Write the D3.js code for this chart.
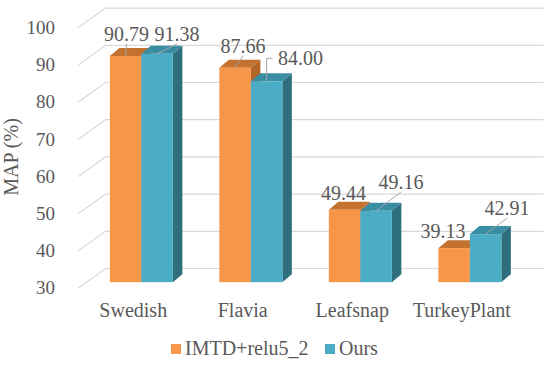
<!DOCTYPE html>
<html>
<head>
<meta charset="utf-8">
<script src="https://cdn.jsdelivr.net/npm/d3@7"></script>
<style>
  body { margin: 0; background: #fff; }
  text { font-family: "Liberation Serif", "Times New Roman", serif; fill: #595959; }
</style>
</head>
<body>
<div id="chart"></div>
<script>
const categories = ["Swedish", "Flavia", "Leafsnap", "TurkeyPlant"];
const seriesNames = ["IMTD+relu5_2", "Ours"];
const imtdValues = [90.79, 87.66, 49.44, 39.13];
const oursValues = [91.38, 84.00, 49.16, 42.91];
const yTicks = [30, 40, 50, 60, 70, 80, 90, 100];
const seriesColors = [
  { front: "#F79646", top: "#C2712F", side: "#B4652A" },
  { front: "#4BACC6", top: "#3A8EA3", side: "#2F6E7D" }
];

// label nudges (layout only): [dx to label centre, dy to baseline, leader kind]
const labelNudge = [
  [[1, -15, "line"], [8, -15, "line"], [-1, -10, "none"], [-11, -10, "none"]],
  [[20, -13, "line"], [34, -16, "elbow"], [25, -22, "line"], [21.5, -19, "line"]]
];

const width = 550, height = 365;
const wallDepth = [27, -19.5];   // floor front -> back wall
const barPlane = 0.3;            // where bars stand in the depth
const barDepth = [9.5, -8];

const svg = d3.select("#chart").append("svg")
  .attr("width", width)
  .attr("height", height);

const x = d3.scaleBand().domain(categories).range([78.5, 516.5]);
const xInner = d3.scaleBand().domain(seriesNames)
  .range([x.bandwidth() / 2 - 31.5, x.bandwidth() / 2 + 31.5]);
const y = d3.scaleLinear().domain([30, 100]).range([288, 27.6]);

// gridlines: left wall diagonal + back wall
const grid = svg.append("g").attr("class", "grid")
  .attr("stroke", "#D9D9D9").attr("fill", "none").attr("stroke-width", 1.2);
grid.selectAll("path")
  .data(yTicks)
  .enter().append("path")
  .attr("d", d => {
    const x0 = x.range()[0], y0 = y(d);
    return `M${x0},${y0} L${x0 + wallDepth[0]},${y0 + wallDepth[1]} L${x.range()[1] + wallDepth[0]},${y0 + wallDepth[1]}`;
  });

// y tick labels
svg.append("g").selectAll("text")
  .data(yTicks)
  .enter().append("text")
  .attr("x", 55)
  .attr("y", d => y(d))
  .attr("dy", "0.34em")
  .attr("text-anchor", "end")
  .style("font-size", "19px")
  .text(d => d);

// y title
svg.append("text")
  .attr("transform", "translate(18,157) rotate(-90)")
  .attr("text-anchor", "middle")
  .style("font-size", "20px")
  .text("MAP (%)");

// category labels
svg.append("g").selectAll("text")
  .data(categories)
  .enter().append("text")
  .attr("x", d => x(d) + x.bandwidth() / 2)
  .attr("y", 317)
  .attr("text-anchor", "middle")
  .style("font-size", "20px")
  .text(d => d);

// bars
const shift = [wallDepth[0] * barPlane, wallDepth[1] * barPlane];
const rows = [];
categories.forEach((c, i) => {
  [imtdValues, oursValues].forEach((vals, s) => {
    rows.push({ cat: c, i: i, s: s, v: vals[i] });
  });
});

const bars = svg.append("g").attr("class", "bars")
  .selectAll("g")
  .data(rows)
  .enter().append("g");

bars.each(function (d) {
  const g = d3.select(this);
  const x0 = x(d.cat) + xInner(seriesNames[d.s]) + shift[0];
  const x1 = x0 + xInner.bandwidth();
  const yb = y(30) + shift[1];
  const yt = y(d.v) + shift[1];
  const [ddx, ddy] = barDepth;
  const col = seriesColors[d.s];
  d.cx = (x0 + x1) / 2;
  d.top = yt;
  g.append("path")
    .attr("d", `M${x1},${yb} L${x1 + ddx},${yb + ddy} L${x1 + ddx},${yt + ddy} L${x1},${yt} Z`)
    .attr("fill", col.side);
  g.append("path")
    .attr("d", `M${x0},${yt} L${x0 + ddx},${yt + ddy} L${x1 + ddx},${yt + ddy} L${x1},${yt} Z`)
    .attr("fill", col.top);
  g.append("rect")
    .attr("x", x0).attr("y", yt)
    .attr("width", x1 - x0).attr("height", yb - yt)
    .attr("fill", col.front);
});

// data labels + leader lines
const labels = svg.append("g").attr("class", "labels");
rows.forEach(d => {
  const [ndx, ndy, kind] = labelNudge[d.s][d.i];
  const lx = d.cx + ndx, ly = d.top + ndy;
  labels.append("text")
    .attr("x", lx).attr("y", ly)
    .attr("text-anchor", "middle")
    .style("font-size", "20px")
    .text(d.v.toFixed(2));
  if (kind === "line") {
    labels.append("line")
      .attr("x1", d.cx).attr("y1", d.top)
      .attr("x2", lx).attr("y2", ly + 3)
      .attr("stroke", "#A6A6A6").attr("stroke-width", 1);
  } else if (kind === "elbow") {
    labels.append("path")
      .attr("d", `M${d.cx},${d.top} L${d.cx},${ly - 7} L${lx - 28},${ly - 7}`)
      .attr("fill", "none")
      .attr("stroke", "#A6A6A6").attr("stroke-width", 1);
  }
});

// legend
const legend = svg.append("g").attr("class", "legend");
const legendX = [171, 325];
seriesNames.forEach((name, s) => {
  legend.append("rect")
    .attr("x", legendX[s]).attr("y", 344)
    .attr("width", 10).attr("height", 10)
    .attr("fill", seriesColors[s].front);
  legend.append("text")
    .attr("x", legendX[s] + 14).attr("y", 355)
    .style("font-size", "20px")
    .text(name);
});
</script>
</body>
</html>
